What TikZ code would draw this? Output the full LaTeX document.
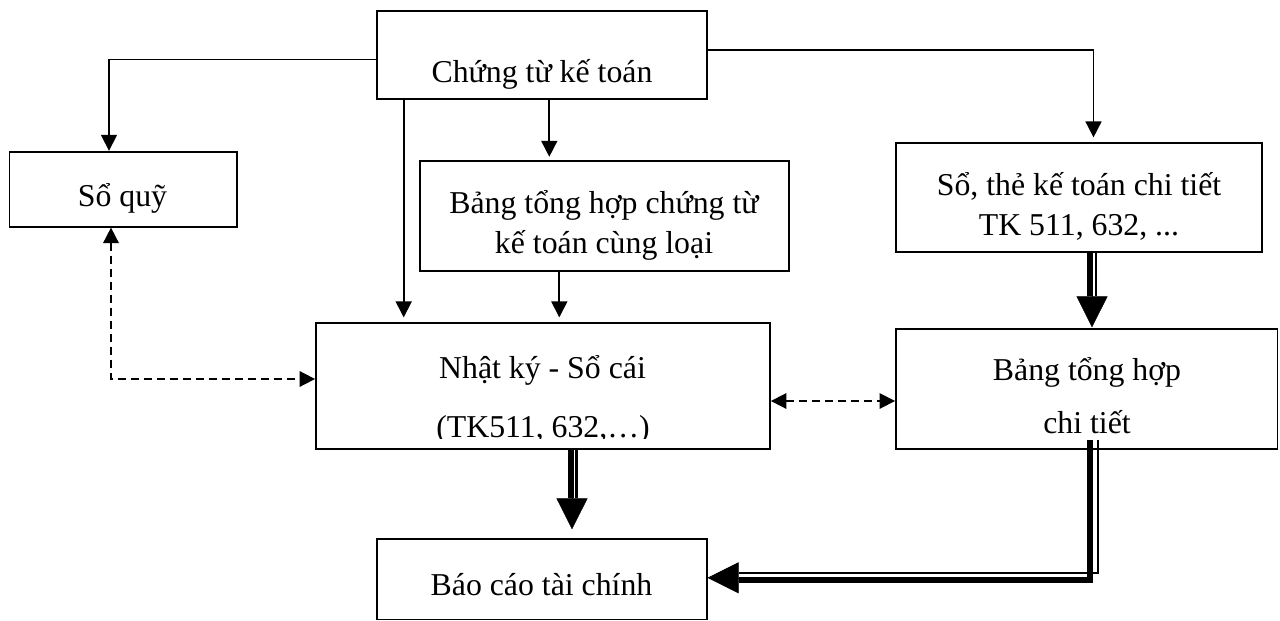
\documentclass[tikz,border=0pt]{standalone}
\usepackage{fontspec}
\setmainfont{Liberation Serif}
\usetikzlibrary{arrows.meta,calc}
\begin{document}
\begin{tikzpicture}[x=1pt,y=-1pt,
  box/.style={draw, line width=1.8pt, inner sep=0pt},
  lbl/.style={anchor=base, inner sep=0pt, font=\fontsize{31.8}{40}\selectfont},
  conn/.style={line width=1.7pt, -{Triangle[length=16pt,width=16pt]}},
  dconn/.style={line width=1.7pt, dash pattern=on 8pt off 5pt,
    {Triangle[length=15.5pt,width=15.5pt]}-{Triangle[length=15.5pt,width=15.5pt]}},
  bigarr/.style={line width=0.5pt, -{Triangle[length=31pt,width=31pt,line width=0.5pt]}},
  thickrule/.style={line width=6pt, line join=miter},
  thinrule/.style={line width=2.2pt, line join=miter}]

\fill[white] (0,0) rectangle (1280,621);
\useasboundingbox (0,0) rectangle (1280,621);

% boxes
\node[box, minimum width=330pt, minimum height=88.6pt] (ctkt) at (541.7,55) {};
\node[box, minimum width=227.2pt, minimum height=75pt] (soquy) at (123.1,189.2) {};
\node[box, minimum width=369pt, minimum height=110pt] (bthct) at (604.5,215.7) {};
\node[box, minimum width=365.7pt, minimum height=108.4pt] (sktct) at (1078.9,197.5) {};
\node[box, minimum width=454pt, minimum height=126pt] (nkst) at (543,386.3) {};
\node[box, minimum width=381.5pt, minimum height=120pt] (bthcti) at (1086.7,389.3) {};
\node[box, minimum width=330pt, minimum height=80.2pt] (bctc) at (541.7,579.4) {};

% labels
\node[lbl] (ctkt-t) at (542,82) {Chứng từ kế toán};
\node[lbl] (soquy-t) at (122.5,206) {Sổ quỹ};
\node[lbl] (bthct-t1) at (604,213) {Bảng tổng hợp chứng từ};
\node[lbl] (bthct-t2) at (604,253) {kế toán cùng loại};
\node[lbl] (sktct-t1) at (1079,195) {Sổ, thẻ kế toán chi tiết};
\node[lbl] (sktct-t2) at (1079,235) {TK 511, 632, ...};
\node[lbl] (nkst-t1) at (542.5,378) {Nhật ký - Sổ cái};
\begin{scope}
  \clip (316,323.3) rectangle (770,438.6);
  \node[lbl] (nkst-t2) at (543,437) {(TK511, 632,…)};
\end{scope}
\node[lbl] (bthcti-t1) at (1087,380) {Bảng tổng hợp};
\node[lbl] (bthcti-t2) at (1087,433) {chi tiết};
\node[lbl] (bctc-t) at (541.5,595) {Báo cáo tài chính};

% plain connectors
\draw[conn] (ctkt.west |- 0,59.5) -| (soquy.north -| 109,0);
\draw[conn, shorten >=5pt] (ctkt.south -| 403.7,0) -- (nkst.north -| 403.7,0);
\draw[conn, shorten >=3pt] (ctkt.south -| 549.3,0) -- (bthct.north -| 549.3,0);
\draw[conn, shorten >=5pt] (bthct.south -| 559.3,0) -- (nkst.north -| 559.3,0);
\draw[conn, shorten >=5pt] (ctkt.east |- 0,50) -| (sktct.north -| 1093.5,0);

% dashed two-way connectors
\draw[dconn] (soquy.south -| 111,0) |- (nkst.west |- 0,379);
\draw[dconn] (nkst.east |- 0,401) -- (bthcti.west |- 0,401);

% thick-thin connector: detail ledger -> detail summary
\draw[bigarr, shorten >=1pt] (sktct.south -| 1092,0) -- (bthcti.north -| 1092,0);
\draw[thickrule, shorten >=32.6pt] (sktct.south -| 1089.5,0) -- (bthcti.north -| 1089.5,0);
\draw[thinrule, shorten >=32.6pt] (sktct.south -| 1095.8,0) -- (bthcti.north -| 1095.8,0);

% thick-thin connector: journal-ledger -> financial statements
\draw[bigarr, shorten >=9pt] (nkst.south -| 572,0) -- (bctc.north -| 572,0);
\draw[thickrule, shorten >=40.3pt] (nkst.south -| 570.8,0) -- (bctc.north -| 570.8,0);
\draw[thinrule, shorten >=40.3pt] (nkst.south -| 576.5,0) -- (bctc.north -| 576.5,0);

% thick-thin connector: detail summary -> financial statements
\draw[bigarr] ([yshift=10pt]bthcti.south -| 1091,0) |- (bctc.east |- 0,577.8);
\draw[thickrule, shorten >=31pt] ([yshift=10pt]bthcti.south -| 1090.3,0) |- (bctc.east |- 0,579.7);
\draw[thinrule, shorten >=31pt] ([yshift=10pt]bthcti.south -| 1097.8,0) |- (bctc.east |- 0,572.8);
\end{tikzpicture}
\end{document}
